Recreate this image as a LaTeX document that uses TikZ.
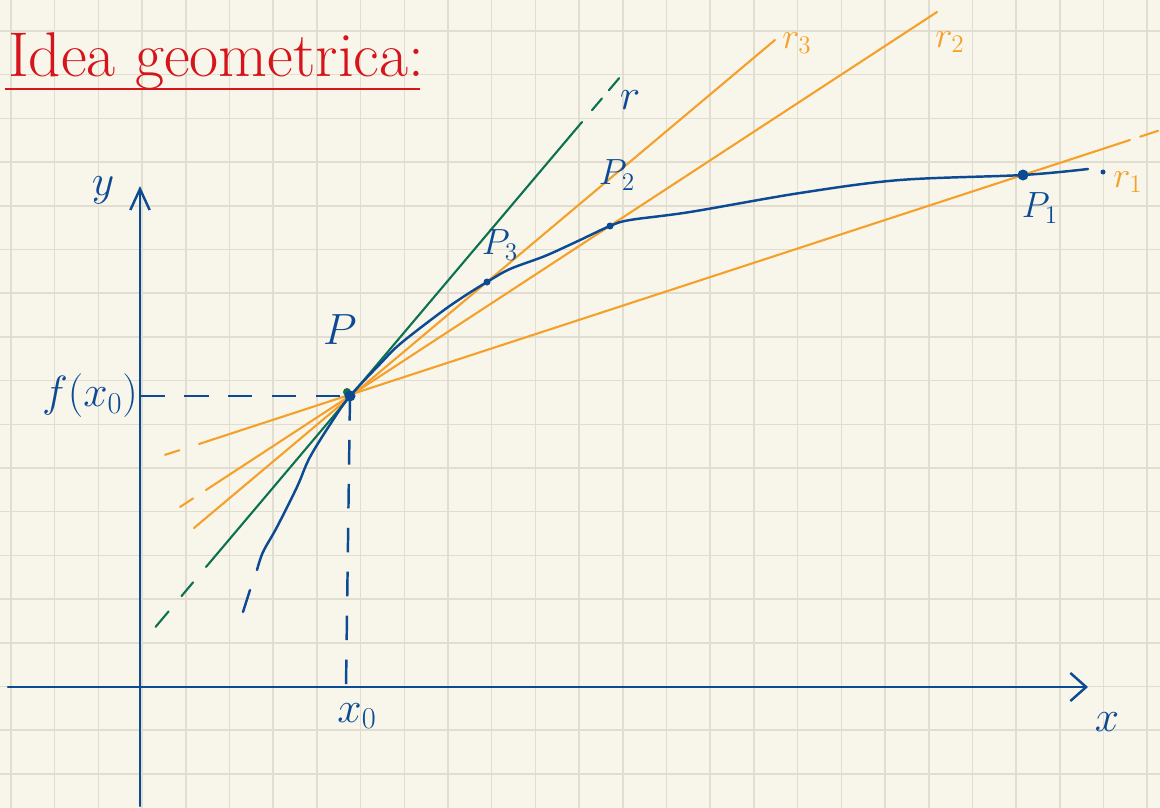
\documentclass[tikz,border=0pt]{standalone}
\usepackage{amsmath,amssymb}
\usepackage{xcolor}
\usepackage{tikz}
\usetikzlibrary{calc,arrows.meta}

\definecolor{paper}{HTML}{F8F6EA}
\definecolor{gridgray}{HTML}{E1DED1}
\definecolor{inkblue}{HTML}{0D4A94}
\definecolor{inkorange}{HTML}{F5A02A}
\definecolor{inkgreen}{HTML}{0C7150}
\definecolor{inkred}{HTML}{D6141B}

\tikzset{
  gridline/.style = {gridgray, line width=0.9pt},
  axis/.style = {inkblue, line width=1.4pt, line cap=round},
  guide/.style = {inkblue, line width=1.4pt, dash pattern=on 14pt off 11pt},
  secant/.style = {inkorange, line width=1.2pt, line cap=round},
  tangent/.style = {inkgreen, line width=1.2pt, line cap=round},
  curve/.style = {inkblue, line width=1.4pt, line cap=round},
  bluelbl/.style = {inkblue, font=\fontsize{24}{28}\selectfont},
  orangelbl/.style = {inkorange, font=\fontsize{22}{26}\selectfont},
}

\begin{document}
\begin{tikzpicture}[x=0.02cm, y=-0.02cm]
\useasboundingbox (0,0) rectangle (1160,808);
\fill[paper] (0,0) rectangle (1160,808);

%% Grid %%
\foreach \i in {0,...,26}
  \draw[gridline] ({11+43.7*\i},0) -- ({11+43.7*\i},808);
\foreach \j in {0,...,17}
  \draw[gridline] (0,{31+43.7*\j}) -- (1160,{31+43.7*\j});

%% Title %%
\node[inkred, anchor=base west, font=\fontsize{36}{42}\selectfont] (title) at (2,76) {Idea geometrica:};
\coordinate (ul1) at (5,89);
\coordinate (ul2) at (420,89);
\draw[inkred, line width=1.4pt] (ul1) -- (ul2);

%% Points %%
\coordinate (P) at (350,396);
\coordinate (P1) at (1023,175);
\coordinate (P2) at (610,226);
\coordinate (P3) at (487,282);

%% Axes %%
\coordinate (xl) at (8,687);
\coordinate (xr) at (1088,687);
\coordinate (yb) at (140,806);
\coordinate (yt) at (140,186);
\coordinate (fx) at (140,396);
\coordinate (x0) at (346,687);
\draw[axis, -{Straight Barb[length=9pt, width=16pt, line width=1.4pt]}] (xl) -- (xr);
\draw[axis, -{Straight Barb[length=12pt, width=11pt, line width=1.4pt]}] (yb) -- (yt);

\draw[guide] (fx) -- (P);
\draw[guide] (P) -- (x0);

%% Lines through P %%
\coordinate (gLow) at (206,567);
\coordinate (gUp) at (582,122);
\coordinate (r1Low) at (199,444);
\coordinate (r1Up) at (1130,140);
\coordinate (r2Low) at (206,490);
\coordinate (r2Up) at (937,12);
\coordinate (r3Low) at (194,528);
\coordinate (r3Up) at (775,40);

\draw[secant] (r1Low) -- (r1Up);
\draw[secant] (r2Low) -- (r2Up);
\draw[secant] (r3Low) -- (r3Up);
\draw[tangent] (gLow) -- (gUp);

\draw[secant] ($(P)!1.13!(r1Low)$) -- ($(P)!1.225!(r1Low)$);
\draw[secant] ($(P)!1.013!(r1Up)$) -- ($(P)!1.036!(r1Up)$);
\draw[secant] ($(P)!1.09!(r2Low)$) -- ($(P)!1.18!(r2Low)$);
\draw[tangent] ($(P)!1.09!(gLow)$) -- ($(P)!1.17!(gLow)$);
\draw[tangent] ($(P)!1.26!(gLow)$) -- ($(P)!1.35!(gLow)$);
\draw[tangent] ($(P)!1.043!(gUp)$) -- ($(P)!1.086!(gUp)$);
\draw[tangent] ($(P)!1.116!(gUp)$) -- ($(P)!1.16!(gUp)$);

%% Graph of f %%
\draw[curve] plot[smooth, tension=0.55] coordinates {(257,570) (263,552) (277,527) (297,487) (310,457) (333,420) (P) (380,364) (400,344) (440,313) (463,297) (P3) (510,269) (545,256) (578,241) (P2) (630,220) (690,212) (800,193) (900,180) (P1) (1088,169)};
\coordinate (c1) at (250,590);
\coordinate (c2) at (243,612);
\draw[curve] (c1) -- (c2);

\fill[inkgreen] (P) ++(-3,-4) circle (4);
\fill[inkblue] (P) circle (5.5);
\fill[inkblue] (P1) circle (5.5);
\fill[inkblue] (P2) circle (3.5);
\fill[inkblue] (P3) circle (3.5);
\fill[inkblue] (1103,172) circle (2.5);

%% Labels %%
\node[bluelbl] (lbly) at (103,190) {$y$};
\node[bluelbl] (lblx) at (1107,722) {$x$};
\node[bluelbl] (lblx0) at (357,716) {$x_0$};
\node[bluelbl] (lblfx) at (90,396) {$f(x_0)$};
\node[bluelbl] (lblP) at (340,330) {$P$};
\node[bluelbl, font=\fontsize{20}{24}\selectfont] (lblP3) at (500,245) {$P_3$};
\node[bluelbl, font=\fontsize{20}{24}\selectfont] (lblP2) at (617,175) {$P_2$};
\node[bluelbl, font=\fontsize{22}{26}\selectfont] (lblP1) at (1040,208) {$P_1$};
\node[bluelbl] (lblr) at (630,100) {$r$};
\node[orangelbl] (lblr1) at (1128,182) {$r_1$};
\node[orangelbl] (lblr2) at (950,42) {$r_2$};
\node[orangelbl] (lblr3) at (797,43) {$r_3$};

\end{tikzpicture}
\end{document}
